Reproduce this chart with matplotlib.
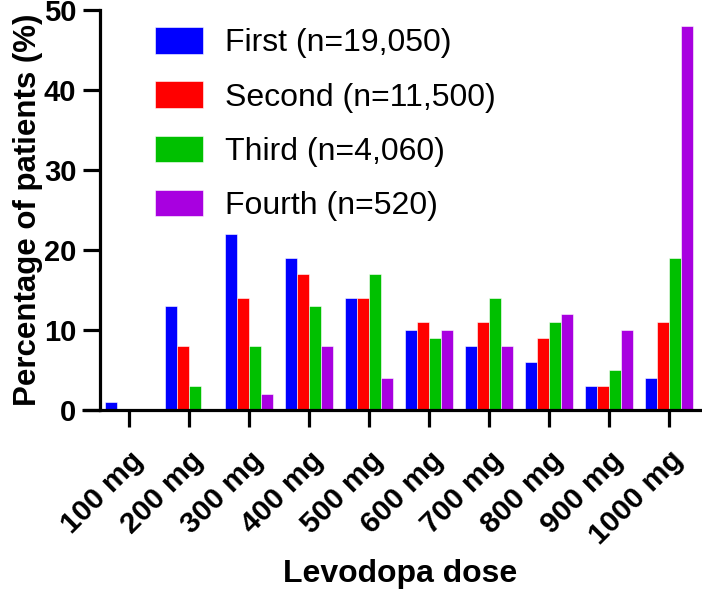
import matplotlib.pyplot as plt
import matplotlib.transforms as mtransforms
import numpy as np

plt.rcParams['font.family'] = ['Liberation Sans', 'DejaVu Sans']

doses = ["100 mg", "200 mg", "300 mg", "400 mg", "500 mg",
         "600 mg", "700 mg", "800 mg", "900 mg", "1000 mg"]
first = [1, 13, 22, 19, 14, 10, 8, 6, 3, 4]
second = [0, 8, 14, 17, 14, 11, 11, 9, 3, 11]
third = [0, 3, 8, 13, 17, 9, 14, 11, 5, 19]
fourth = [0, 0, 2, 8, 4, 10, 8, 12, 10, 48]
labels = ["First (n=19,050)", "Second (n=11,500)", "Third (n=4,060)", "Fourth (n=520)"]
colors = ["#0000ff", "#ff0000", "#00c000", "#a800e0"]

fig = plt.figure(figsize=(7.02, 5.94), dpi=100)
ax = fig.add_axes([0.1425, 0.3098, 0.855, 0.673])

x = np.arange(len(doses))
w = 0.2
for i, (vals, lab, c) in enumerate(zip([first, second, third, fourth], labels, colors)):
    ax.bar(x + (i - 1.5) * w, vals, w, color=c, label=lab, edgecolor='white', linewidth=0.4)

ax.set_xlim(-0.483, 9.517)
ax.set_ylim(0, 50)
ax.set_yticks([0, 10, 20, 30, 40, 50])
ax.set_xticks(x)
ax.set_xticklabels(doses, rotation=45, ha='right', va='top', rotation_mode='anchor',
                   fontsize=21.5, fontweight='bold')
shift = mtransforms.ScaledTranslation(-9 / 100, 5 / 100, fig.dpi_scale_trans)
for t in ax.get_xticklabels():
    t.set_transform(t.get_transform() + shift)
for t in ax.get_yticklabels():
    t.set_fontsize(21)
    t.set_fontweight('bold')

for s in ['top', 'right']:
    ax.spines[s].set_visible(False)
for s in ['left', 'bottom']:
    ax.spines[s].set_linewidth(2.3)
# x axis line runs a little past the y axis
ax.plot([-0.03, 0], [0, 0], transform=ax.transAxes, clip_on=False, lw=2.3, color='k',
        solid_capstyle='butt')
ax.tick_params(axis='both', width=2.3, length=12, direction='out')
ax.tick_params(axis='y', pad=5)
ax.tick_params(axis='x', pad=14)

ax.set_ylabel("Percentage of patients (%)", fontsize=22.5, fontweight='bold', labelpad=1)
ax.set_xlabel("Levodopa dose", fontsize=23, fontweight='bold', labelpad=6)

ax.legend(loc='upper left', bbox_to_anchor=(0.07, 0.99), frameon=False, fontsize=23,
          handlelength=1.5, handleheight=0.9, labelspacing=0.72, handletextpad=0.7,
          borderaxespad=0)

plt.savefig("out.png")
